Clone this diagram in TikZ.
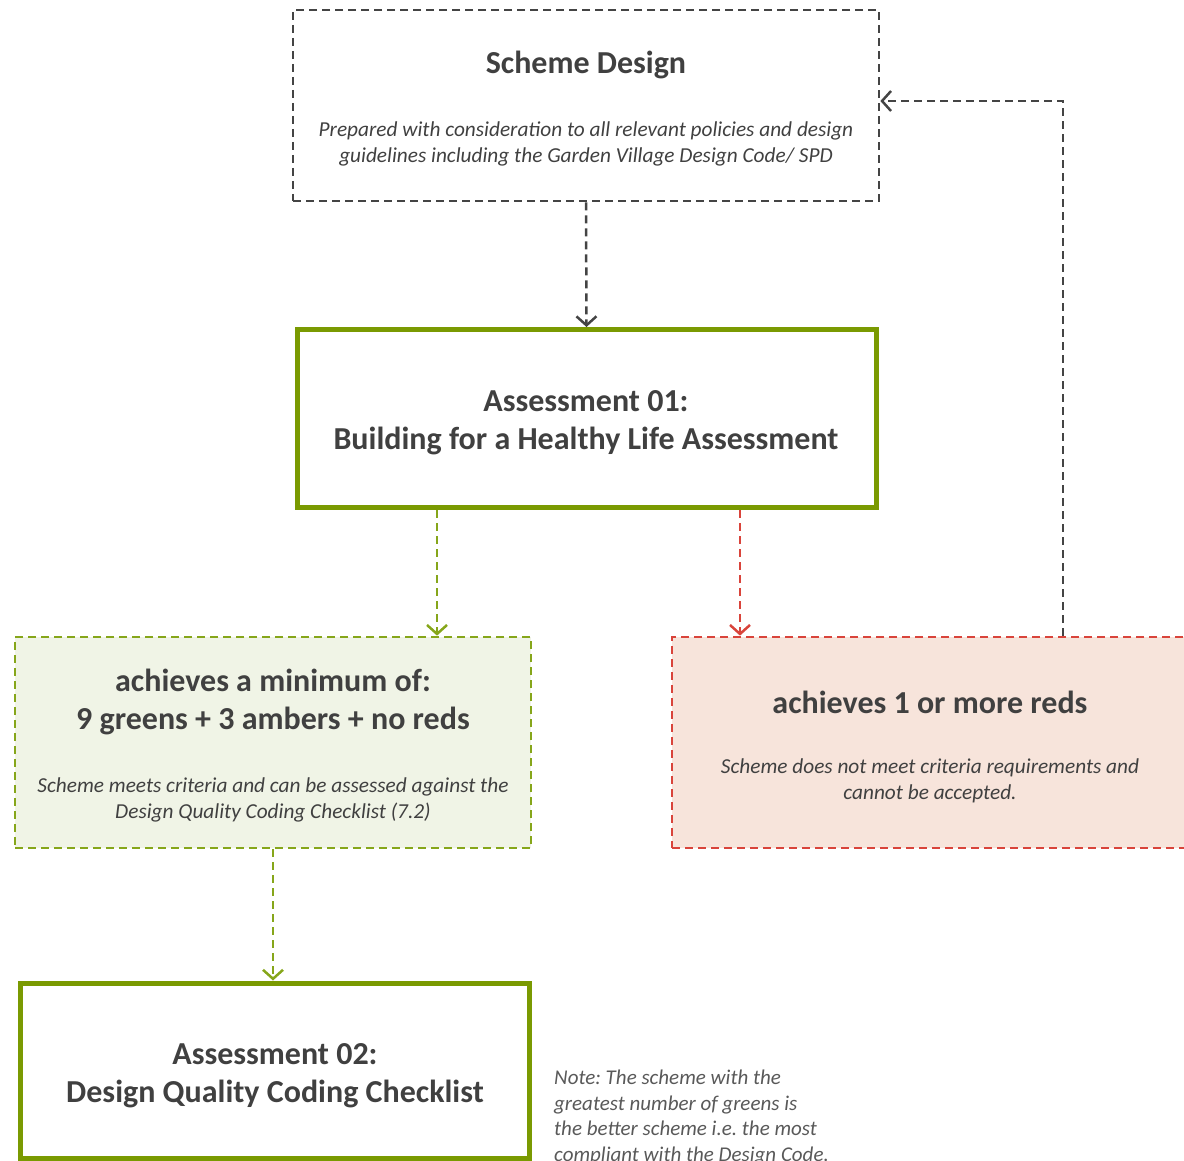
\documentclass[tikz,border=0pt]{standalone}
\usepackage{fontspec}
\setmainfont{Carlito}
\usetikzlibrary{arrows.meta}
\frenchspacing
\definecolor{txt}{HTML}{404040}
\definecolor{notetxt}{HTML}{595959}
\definecolor{grn}{HTML}{7A9A01}
\definecolor{grnd}{HTML}{86A61A}
\definecolor{grnfill}{HTML}{F0F4E6}
\definecolor{redd}{HTML}{D9443B}
\definecolor{redfill}{HTML}{F7E4DB}
\definecolor{gry}{HTML}{444444}
\tikzset{
  solidbox/.style={draw=grn, line width=5pt, rectangle, inner sep=0pt},
  dashbox/.style={rectangle, inner sep=0pt, line width=2.7pt, dash pattern=on 8pt off 5pt},
  flow/.style={line width=2.5pt, dash pattern=on 8pt off 5pt,
    -{Straight Barb[length=9pt,width=20pt,line width=2.5pt]}},
  title/.style={text=txt, align=center, font=\fontsize{32}{38}\selectfont\bfseries},
  sub/.style={text=txt, align=center, font=\fontsize{21.3}{26}\selectfont\itshape},
}
\begin{document}
\begin{tikzpicture}[x=1pt,y=-1pt]
\useasboundingbox (0,0) rectangle (1184,1161);
\clip (0,0) rectangle (1184,1161);

% boxes
\node[dashbox, draw=gry, minimum width=586pt, minimum height=191pt] (sd) at (586,105.5) {};
\node[solidbox, minimum width=579pt, minimum height=178pt] (a1) at (586.5,418.5) {};
\node[dashbox, draw=grnd, fill=grnfill, minimum width=516pt, minimum height=211pt] (g1) at (273,742.5) {};
\node[dashbox, draw=redd, fill=redfill, minimum width=540pt, minimum height=211pt] (r1) at (942,742.5) {};
\node[solidbox, minimum width=509pt, minimum height=175pt] (a2) at (274.5,1070.5) {};

% texts
\node[title] (sdt) at (586,65) {Scheme Design};
\node[sub] (sds) at (586,144) {Prepared with consideration to all relevant policies and design\\guidelines including the Garden Village Design Code/ SPD};
\node[title] (a1t) at (586,423) {Assessment 01:\\Building for a Healthy Life Assessment};
\node[title] (g1t) at (273,702) {achieves a minimum of:\\9 greens + 3 ambers + no reds};
\node[sub] (g1s) at (273,800) {Scheme meets criteria and can be assessed against the\\Design Quality Coding Checklist (7.2)};
\node[title] (r1t) at (930,702) {achieves 1 or more reds};
\node[sub] (r1s) at (930,781) {Scheme does not meet criteria requirements and\\cannot be accepted.};
\node[title] (a2t) at (275,1076) {Assessment 02:\\Design Quality Coding Checklist};
\node[anchor=north west, inner sep=0pt, text=notetxt, align=left,
      font=\fontsize{21}{25.5}\selectfont\itshape] (note) at (554,1070)
  {Note: The scheme with the\\greatest number of greens is\\the better scheme i.e. the most\\compliant with the Design Code.};

% connector positions
\coordinate (xg) at (437,0);
\coordinate (xr) at (740,0);
\coordinate (xf) at (1063,0);
\coordinate (yf) at (0,101);

% connectors
\draw[flow, draw=gry] (sd.south) -- (a1.north);
\draw[flow, draw=grnd] (a1.south -| xg) -- (g1.north -| xg);
\draw[flow, draw=redd] (a1.south -| xr) -- (r1.north -| xr);
\draw[flow, draw=grnd] (g1.south) -- (g1.south |- a2.north);
\draw[flow, draw=gry] (r1.north -| xf) |- (sd.east |- yf);
\end{tikzpicture}
\end{document}
